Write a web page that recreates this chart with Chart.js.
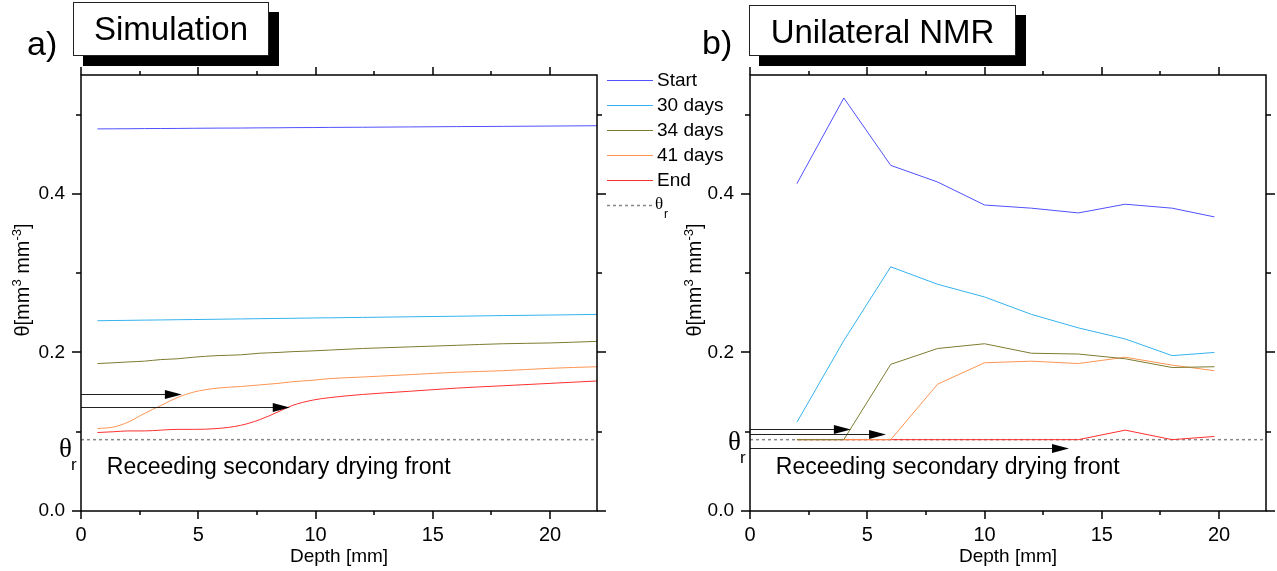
<!DOCTYPE html>
<html>
<head>
<meta charset="utf-8">
<script src="https://cdn.jsdelivr.net/npm/chart.js@4.4.1/dist/chart.umd.min.js"></script>
<style>
  html, body { margin: 0; padding: 0; background: #fff; }
  body { width: 1277px; height: 571px; position: relative; overflow: hidden;
         font-family: "Liberation Sans", Arial, sans-serif; color: #000; }
  canvas { position: absolute; top: 0; }
  #simChart { left: 0; }
  #nmrChart { left: 640px; }
  .panel { position: absolute; font-size: 34px; line-height: 34px; }
  .title { position: absolute; box-sizing: border-box; background: #fff; border: 1px solid #222;
           box-shadow: 10px 10px 0 #000; font-size: 33px; line-height: 52px; text-align: center; }
</style>
</head>
<body>
<canvas id="simChart" width="780" height="571"></canvas>
<canvas id="nmrChart" width="637" height="571"></canvas>
<div class="panel" style="left:27px;top:26px">a)</div>
<div class="title" style="left:73px;top:2px;width:196px;height:54px;line-height:51px">Simulation</div>
<div class="panel" style="left:702px;top:25px">b)</div>
<div class="title" style="left:749px;top:5px;width:267px;height:51px">Unilateral NMR</div>

<script>
// moisture profiles, theta in mm3/mm3 against depth in mm
const seriesNames = ['Start', '30 days', '34 days', '41 days', 'End'];
const seriesColors = ['#5050ff', '#35b2ee', '#7c7c30', '#ff9452', '#ff3030'];

// simulated profiles
const simDepth = [0.7, 1.4, 2.0, 2.7, 3.4, 4.1, 4.8, 5.8, 6.8, 7.6, 8.4, 9.0, 9.9, 10.6, 12, 14, 16, 18, 20, 22];
const simStart = [0.4820, 0.4821, 0.4822, 0.4824, 0.4825, 0.4826, 0.4828, 0.4830, 0.4831, 0.4833, 0.4834, 0.4836, 0.4837, 0.4839, 0.4841, 0.4845, 0.4849, 0.4852, 0.4856, 0.4860];
const sim30 = [0.2400, 0.2403, 0.2405, 0.2408, 0.2410, 0.2413, 0.2415, 0.2419, 0.2423, 0.2426, 0.2429, 0.2431, 0.2435, 0.2437, 0.2442, 0.2450, 0.2457, 0.2465, 0.2472, 0.2480];
const sim34 = [0.186, 0.187, 0.188, 0.189, 0.191, 0.192, 0.194, 0.196, 0.197, 0.199, 0.200, 0.201, 0.202, 0.203, 0.205, 0.207, 0.209, 0.211, 0.212, 0.214];
const sim41 = [0.104, 0.106, 0.112, 0.123, 0.133, 0.143, 0.150, 0.155, 0.157, 0.159, 0.161, 0.163, 0.165, 0.167, 0.169, 0.172, 0.175, 0.177, 0.180, 0.182];
const simEnd = [0.099, 0.100, 0.101, 0.101, 0.102, 0.103, 0.103, 0.104, 0.108, 0.115, 0.125, 0.133, 0.140, 0.143, 0.147, 0.151, 0.155, 0.158, 0.161, 0.164];

// unilateral NMR profiles
const nmrDepth = [2, 4, 6, 8, 10, 12, 14, 16, 18, 19.8];
const nmrStart = [0.413, 0.521, 0.436, 0.415, 0.386, 0.382, 0.376, 0.387, 0.382, 0.371];
const nmr30 = [0.112, 0.215, 0.308, 0.286, 0.270, 0.248, 0.231, 0.217, 0.196, 0.200];
const nmr34 = [0.090, 0.090, 0.185, 0.205, 0.211, 0.199, 0.198, 0.192, 0.181, 0.182];
const nmr41 = [0.090, 0.090, 0.090, 0.160, 0.187, 0.189, 0.186, 0.194, 0.184, 0.177];
const nmrEnd = [0.090, 0.090, 0.090, 0.090, 0.090, 0.090, 0.090, 0.102, 0.090, 0.094];

// residual moisture content
const thetaR = 0.09;

// axis ranges
const depthMax = 22;
const thetaMax = 0.55;

// drying front arrows: [theta level, depth reached]
const simArrows = [[0.148, 4.3], [0.131, 8.9]];
const nmrArrows = [[0.103, 4.3], [0.097, 5.8], [0.079, 13.6]];
const frontText = 'Receeding secondary drying front';

const sans = '"Liberation Sans", Arial, sans-serif';
const serif = '"Liberation Serif", "Times New Roman", serif';

function makeDatasets(depth, series, smooth) {
  const sets = series.map((vals, i) => ({
    label: seriesNames[i],
    data: depth.map((d, k) => ({ x: d, y: vals[k] })),
    borderColor: seriesColors[i],
    borderWidth: 1,
    pointRadius: 0,
    fill: false,
    cubicInterpolationMode: smooth ? 'monotone' : 'default',
    tension: 0
  }));
  sets.push({
    label: 'θ',
    sub: 'r',
    data: [{ x: 0, y: thetaR }, { x: depthMax, y: thetaR }],
    borderColor: '#888',
    borderWidth: 1.5,
    borderDash: [3, 3],
    pointRadius: 0,
    fill: false
  });
  return sets;
}

const isMajorX = v => v % 5 === 0;
const isMajorY = v => Math.round(v * 10) % 2 === 0;

// box around the plot plus tick marks on all four sides
const frameTicks = {
  id: 'frameTicks',
  afterDraw(chart) {
    const { ctx, chartArea: a, scales: { x, y } } = chart;
    ctx.save();
    ctx.strokeStyle = '#000';
    ctx.lineWidth = 1.5;
    ctx.strokeRect(a.left, a.top, a.right - a.left, a.bottom - a.top);
    ctx.beginPath();
    x.ticks.forEach(t => {
      const px = Math.round(x.getPixelForValue(t.value));
      const len = isMajorX(t.value) ? 8 : 4;
      ctx.moveTo(px, a.bottom); ctx.lineTo(px, a.bottom + len);
      ctx.moveTo(px, a.top); ctx.lineTo(px, a.top - len);
    });
    y.ticks.forEach(t => {
      const py = Math.round(y.getPixelForValue(t.value));
      const len = isMajorY(t.value) ? 9 : 5;
      ctx.moveTo(a.left - len, py); ctx.lineTo(a.left, py);
      ctx.moveTo(a.right, py); ctx.lineTo(a.right + len, py);
    });
    ctx.stroke();
    ctx.restore();
  }
};

// y axis title with real superscripts
const yTitle = {
  id: 'yTitle',
  afterDraw(chart, args, opts) {
    const { ctx, chartArea: a } = chart;
    const parts = [['θ[mm', false], ['3', true], [' mm', false], ['-3', true], [']', false]];
    const base = '20px ' + sans;
    const sup = '13px ' + sans;
    ctx.save();
    ctx.translate(a.left + opts.dx, opts.cy);
    ctx.rotate(-Math.PI / 2);
    let total = 0;
    parts.forEach(([t, s]) => { ctx.font = s ? sup : base; total += ctx.measureText(t).width; });
    let pos = -total / 2;
    ctx.fillStyle = '#000';
    ctx.textAlign = 'left';
    ctx.textBaseline = 'alphabetic';
    parts.forEach(([t, s]) => {
      ctx.font = s ? sup : base;
      ctx.fillText(t, pos, s ? -1 : 7);
      pos += ctx.measureText(t).width;
    });
    ctx.restore();
  }
};

// arrows, front caption and the theta_r mark beside the axis
const dryingFront = {
  id: 'dryingFront',
  afterDatasetsDraw(chart, args, opts) {
    const { ctx, chartArea: a, scales: { x, y } } = chart;
    ctx.save();
    opts.arrows.forEach(([level, reach]) => {
      const py = Math.round(y.getPixelForValue(level)) + 0.5;
      const tip = x.getPixelForValue(reach);
      ctx.strokeStyle = '#222';
      ctx.lineWidth = 1;
      ctx.beginPath();
      ctx.moveTo(a.left, py);
      ctx.lineTo(tip - 14, py);
      ctx.stroke();
      ctx.fillStyle = '#000';
      ctx.beginPath();
      ctx.moveTo(tip, py);
      ctx.lineTo(tip - 17, py - 4.5);
      ctx.lineTo(tip - 17, py + 4.5);
      ctx.closePath();
      ctx.fill();
    });

    ctx.fillStyle = '#000';
    ctx.font = '23px ' + sans;
    ctx.textAlign = 'left';
    ctx.textBaseline = 'middle';
    ctx.fillText(frontText, x.getPixelForValue(1.1), y.getPixelForValue(0.055));

    const ty = y.getPixelForValue(thetaR) + opts.thetaShift;
    ctx.font = '27px ' + serif;
    ctx.textAlign = 'right';
    ctx.fillText('θ', a.left - 9, ty);
    ctx.font = '17px ' + sans;
    ctx.textAlign = 'left';
    ctx.fillText('r', a.left - 10, ty + 16);
    ctx.restore();
  }
};

// legend sitting in the gap between the two panels
const sideLegend = {
  id: 'sideLegend',
  afterDraw(chart) {
    const { ctx, chartArea: a } = chart;
    const x0 = a.right + 10;
    ctx.save();
    ctx.textBaseline = 'middle';
    chart.data.datasets.forEach((ds, i) => {
      const yy = a.top + 5 + i * 25;
      ctx.strokeStyle = ds.borderColor;
      ctx.lineWidth = ds.borderDash ? 1.5 : 1;
      ctx.setLineDash(ds.borderDash || []);
      ctx.beginPath();
      ctx.moveTo(x0, yy + 0.5);
      ctx.lineTo(x0 + 46, yy + 0.5);
      ctx.stroke();
      ctx.setLineDash([]);
      ctx.fillStyle = '#000';
      if (ds.sub) {
        ctx.font = '17px ' + serif;
        ctx.fillText(ds.label, x0 + 48, yy);
        ctx.font = '12px ' + sans;
        ctx.fillText(ds.sub, x0 + 57, yy + 10);
      } else {
        ctx.font = '19px ' + sans;
        ctx.fillText(ds.label, x0 + 50, yy + 1);
      }
    });
    ctx.restore();
  }
};

function makeOptions(pad, yWidth, titleDx, arrows, thetaShift) {
  return {
    responsive: false,
    animation: false,
    layout: { padding: pad },
    plugins: {
      legend: { display: false },
      tooltip: { enabled: false },
      dryingFront: { arrows: arrows, thetaShift: thetaShift },
      yTitle: { dx: titleDx, cy: 280 }
    },
    scales: {
      x: {
        type: 'linear',
        min: 0,
        max: depthMax,
        grid: { display: false, drawTicks: true, tickLength: 8 },
        border: { display: false },
        ticks: {
          stepSize: 2.5,
          includeBounds: false,
          autoSkip: false,
          maxRotation: 0,
          padding: 4,
          color: '#000',
          font: { family: sans, size: 20 },
          callback: v => (isMajorX(v) ? String(v) : '')
        },
        title: {
          display: true,
          text: 'Depth [mm]',
          color: '#000',
          font: { family: sans, size: 19 },
          padding: { top: 0, bottom: 3 }
        },
        afterFit: s => { s.height = 60; }
      },
      y: {
        type: 'linear',
        min: 0,
        max: thetaMax,
        grid: { display: false, drawTicks: true, tickLength: 9 },
        border: { display: false },
        ticks: {
          stepSize: 0.1,
          includeBounds: false,
          autoSkip: false,
          padding: 7,
          color: '#000',
          font: { family: sans, size: 19 },
          callback: v => (isMajorY(v) ? v.toFixed(1) : '')
        },
        title: { display: false },
        afterFit: s => { s.width = yWidth; }
      }
    }
  };
}

new Chart(document.getElementById('simChart'), {
  type: 'line',
  data: { datasets: makeDatasets(simDepth, [simStart, sim30, sim34, sim41, simEnd], true) },
  options: makeOptions({ left: 0, right: 183, top: 75, bottom: 0 }, 81, -59, simArrows, 10),
  plugins: [frameTicks, dryingFront, sideLegend, yTitle]
});

new Chart(document.getElementById('nmrChart'), {
  type: 'line',
  data: { datasets: makeDatasets(nmrDepth, [nmrStart, nmr30, nmr34, nmr41, nmrEnd], false) },
  options: makeOptions({ left: 40, right: 11, top: 75, bottom: 0 }, 70, -56, nmrArrows, 3),
  plugins: [frameTicks, dryingFront, yTitle]
});
</script>
</body>
</html>
